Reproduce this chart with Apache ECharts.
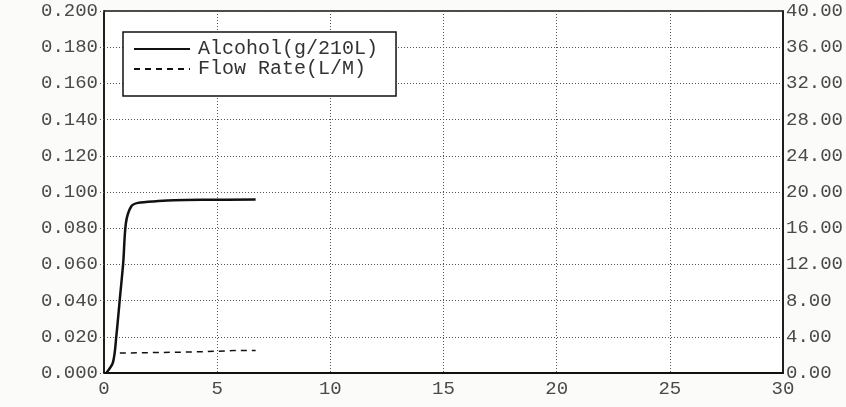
<!DOCTYPE html>
<html>
<head>
<meta charset="utf-8">
<script src="https://cdn.jsdelivr.net/npm/echarts@6/dist/echarts.min.js"></script>
<style>
html,body{margin:0;padding:0;background:#fbfbf9;}
#c{width:846px;height:407px;}
</style>
</head>
<body>
<div id="c"></div>
<script>
// Data
const alcoholX = [0.1, 0.4, 0.55, 0.7, 0.85, 0.97, 1.2, 1.5, 2.4, 3.1, 4.5, 6.7];
const alcoholY = [0.000, 0.006, 0.021, 0.041, 0.061, 0.083, 0.092, 0.094, 0.095, 0.0955, 0.0957, 0.0958];
const flowX = [0.7, 2.0, 3.5, 5.0, 5.8, 6.7];
const flowY = [2.2, 2.25, 2.3, 2.4, 2.5, 2.5];
const leftTicks = {min: 0, max: 0.2, interval: 0.02};
const rightTicks = {min: 0, max: 40, interval: 4};
const xTicks = {min: 0, max: 30, interval: 5};
const seriesNames = ['Alcohol(g/210L)', 'Flow Rate(L/M)'];

const font = 'Liberation Mono';
const labelColor = '#4a4a4a';
const gridLine = {show: true, lineStyle: {color: '#555', type: [1, 2], width: 1}};

const chart = echarts.init(document.getElementById('c'), null, {renderer: 'canvas'});
chart.setOption({
  backgroundColor: '#fbfbf9',
  animation: false,
  grid: {left: 104, right: 61, top: 11, bottom: 34, show: true, backgroundColor: '#ffffff', borderColor: '#111', borderWidth: 1.5},
  legend: {
    left: 123, top: 32, orient: 'vertical',
    data: seriesNames,
    backgroundColor: '#ffffff', borderColor: '#111', borderWidth: 1.5, borderRadius: 0,
    padding: [7, 18, 17, 10],
    itemWidth: 56, itemHeight: 14, itemGap: 0,
    itemStyle: {color: 'transparent', borderWidth: 0, opacity: 0},
    textStyle: {fontFamily: font, fontSize: 20, color: '#333', lineHeight: 17, padding: [0, 0, 0, 3]}
  },
  xAxis: {
    type: 'value', min: xTicks.min, max: xTicks.max, interval: xTicks.interval,
    axisLine: {show: true, lineStyle: {color: '#111', width: 2}},
    axisTick: {show: false},
    splitLine: gridLine,
    axisLabel: {fontFamily: font, fontSize: 19, color: labelColor, margin: 6}
  },
  yAxis: [{
    type: 'value', min: leftTicks.min, max: leftTicks.max, interval: leftTicks.interval,
    axisLine: {show: true, lineStyle: {color: '#111', width: 1.5}},
    axisTick: {show: true, length: 6, lineStyle: {color: '#555', type: [1, 2]}},
    splitLine: gridLine,
    axisLabel: {fontFamily: font, fontSize: 19, color: labelColor, margin: 6, formatter: v => v.toFixed(3)}
  }, {
    type: 'value', min: rightTicks.min, max: rightTicks.max, interval: rightTicks.interval,
    position: 'right',
    axisLine: {show: true, lineStyle: {color: '#111', width: 1.5}},
    axisTick: {show: false},
    splitLine: {show: false},
    axisLabel: {fontFamily: font, fontSize: 19, color: labelColor, margin: 3, formatter: v => v.toFixed(2)}
  }],
  series: [{
    name: seriesNames[0], type: 'line', yAxisIndex: 0, showSymbol: false, symbol: 'none', smooth: 0.3,
    lineStyle: {color: '#111', width: 2.5},
    itemStyle: {color: '#111'},
    data: alcoholX.map((x, i) => [x, alcoholY[i]])
  }, {
    name: seriesNames[1], type: 'line', yAxisIndex: 1, showSymbol: false, symbol: 'none',
    lineStyle: {color: '#111', width: 1.5, type: [6, 5]},
    itemStyle: {color: '#111'},
    data: flowX.map((x, i) => [x, flowY[i]])
  }]
});
</script>
</body>
</html>
